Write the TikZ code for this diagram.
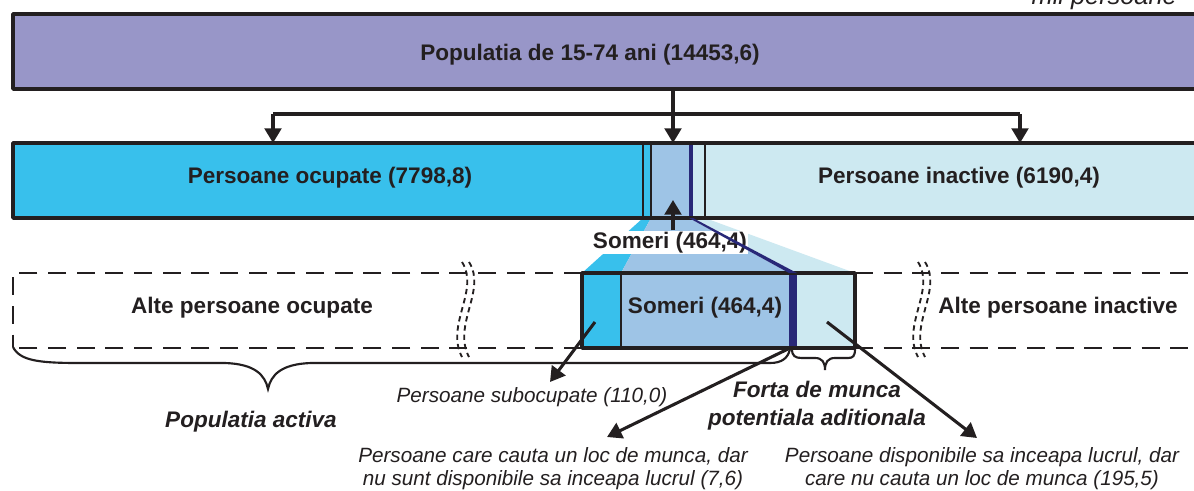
\documentclass[tikz,border=0pt]{standalone}
\usepackage{fontspec}
\setmainfont{Liberation Sans}
\usetikzlibrary{arrows.meta,calc}
\definecolor{cpurple}{RGB}{152,150,200}
\definecolor{ccyan}{RGB}{56,192,236}
\definecolor{csom}{RGB}{158,196,230}
\definecolor{cnavy}{RGB}{40,40,120}
\definecolor{cina}{RGB}{205,233,241}
\definecolor{cline}{RGB}{35,31,32}
\tikzset{
  lbl/.style={font=\fontsize{16.9}{19}\selectfont\bfseries, text=cline, inner sep=0pt},
  bital/.style={font=\fontsize{16.9}{19}\selectfont\bfseries\itshape, text=cline, inner sep=0pt},
  ital/.style={font=\fontsize{15.5}{18}\selectfont\itshape, text=cline, inner sep=0pt},
  border/.style={draw=cline, line width=2.6pt, line join=round},
  sep/.style={draw=cline, line width=2.2pt},
  dline/.style={draw=cline, line width=2.2pt, dash pattern=on 13.5pt off 8pt},
  brk/.style={draw=cline, line width=1.4pt, dash pattern=on 4pt off 3pt},
  conn/.style={draw=cline, line width=2.3pt, -{Triangle[length=11pt,width=12.5pt]}},
  plain/.style={draw=cline, line width=2.3pt},
  brace/.style={draw=cline, line width=1.6pt},
}
\begin{document}
\begin{tikzpicture}[x=0.75pt,y=-0.75pt]
\clip (0,0) rectangle (1194,490);
\fill[white] (0,0) rectangle (1194,490);
% trapezoids
\fill[ccyan] (643,218) -- (651,218) -- (621,273) -- (582,273) -- cycle;
\fill[csom] (651,218) -- (689,218) -- (789,273) -- (621,273) -- cycle;
\fill[cina] (693,218) -- (705,218) -- (855,273) -- (797,273) -- cycle;
% top box
\fill[cpurple] (13,14) rectangle (1200,89);
\draw[border] (1200,14) -- (13,14) -- (13,89) -- (1200,89);
% middle row
\fill[ccyan] (13,143) rectangle (651,218);
\fill[csom] (651,143) rectangle (689,218);
\fill[cnavy] (689,143) rectangle (693,218);
\fill[cina] (693,143) rectangle (1200,218);
\draw[border] (1200,143) -- (13,143) -- (13,218) -- (1200,218);
\draw[sep] (643,143) -- (643,218);
\draw[sep] (651,143) -- (651,218);
\draw[sep] (705,143) -- (705,218);
% bottom row
\fill[ccyan] (582,273) rectangle (621,348);
\fill[csom] (621,273) rectangle (789,348);
\fill[cnavy] (789,273) rectangle (797,348);
\fill[cina] (797,273) rectangle (855,348);
\draw[border] (582,273) rectangle (855,348);
\draw[sep] (621,273) -- (621,348);
% dashed surroundings
\draw[dline] (582,273) -- (13,273) -- (13,347);
\draw[dline] (582,348) -- (13,348);
\draw[dline] (855,273) -- (1194,273);
\draw[dline] (855,348) -- (1194,348);
% break marks
\draw[brk] (462,262) .. controls (480,290) and (445,325) .. (462,357);
\draw[brk] (469,262) .. controls (487,290) and (452,325) .. (469,357);
\draw[brk] (918,262) .. controls (936,290) and (901,325) .. (918,357);
\draw[brk] (925,262) .. controls (943,290) and (908,325) .. (925,357);
% texts
\node[lbl, anchor=base] (pop) at (590,60) {Populatia de 15-74 ani (14453,6)};
\node[lbl, anchor=base] (ocup) at (330,183) {Persoane ocupate (7798,8)};
\node[lbl, anchor=base] (inac) at (959,183) {Persoane inactive (6190,4)};
\node[lbl, anchor=base, fill=white, inner sep=0.8pt] (som1) at (670,248) {Someri (464,4)};
\fill[cnavy] (689,218) -- (693,218) -- (797,273) -- (789,273) -- cycle;
\node[lbl, anchor=base] (som2) at (705,313) {Someri (464,4)};
\node[lbl, anchor=base] (alteo) at (252,313) {Alte persoane ocupate};
\node[lbl, anchor=base] (altei) at (1058,313) {Alte persoane inactive};
\node[ital, anchor=base] (subo) at (532,402) {Persoane subocupate (110,0)};
\node[bital, anchor=base] (forta1) at (817,397) {Forta de munca};
\node[bital, anchor=base] (forta2) at (817,425) {potentiala aditionala};
\node[bital, anchor=base] (popact) at (251,427) {Populatia activa};
\node[ital, anchor=base] (cauta1) at (553,462) {Persoane care cauta un loc de munca, dar};
\node[ital, anchor=base] (cauta2) at (553,485) {nu sunt disponibile sa inceapa lucrul (7,6)};
\node[ital, anchor=base] (disp1) at (982,462) {Persoane disponibile sa inceapa lucrul, dar};
\node[ital, anchor=base] (disp2) at (982,485) {care nu cauta un loc de munca (195,5)};
\node[font=\fontsize{19}{21}\selectfont\itshape, text=cline, inner sep=0pt, anchor=base east] (mii) at (1177,4) {mii persoane};
% top connectors
\coordinate (popb) at (673,89);
\coordinate (jm) at (673,114);
\coordinate (jl) at (273,114);
\coordinate (jr) at (1020,114);
\coordinate (tl) at (273,143);
\coordinate (tm) at (673,143);
\coordinate (tr) at (1020,143);
\draw[plain] (popb) -- (jm);
\draw[plain] (jl) -- (jr);
\draw[conn] (jl) -- (tl);
\draw[conn] (jm) -- (tm);
\draw[conn] (jr) -- (tr);
% somer up arrow
\coordinate (somtip) at (673,200);
\draw[conn] (som1.north -| somtip) -- (somtip);
% bottom arrows
\coordinate (cyfrom) at (595,322);
\coordinate (cyto) at (550,382);
\coordinate (nvfrom) at (790,348);
\coordinate (nvto) at (607,437);
\coordinate (ltfrom) at (827,322);
\coordinate (ltto) at (977,438);
\draw[conn] (cyfrom) -- (cyto);
\draw[conn] (nvfrom) -- (nvto);
\draw[conn] (ltfrom) -- (ltto);
% braces
\draw[brace] (13,347) .. controls (20,361) and (40,363) .. (80,363) -- (225,363)
  .. controls (255,364) and (265,375) .. (268,389)
  .. controls (271,375) and (281,364) .. (311,363) -- (770,363)
  .. controls (782,363) and (788,358) .. (790,349);
\draw[brace] (792,349) .. controls (792,356) and (795,358) .. (802,358) -- (815,358)
  .. controls (822,358) and (825,362) .. (825,370)
  .. controls (825,362) and (828,358) .. (835,358) -- (848,358)
  .. controls (853,358) and (855,356) .. (855,349);
\end{tikzpicture}
\end{document}
